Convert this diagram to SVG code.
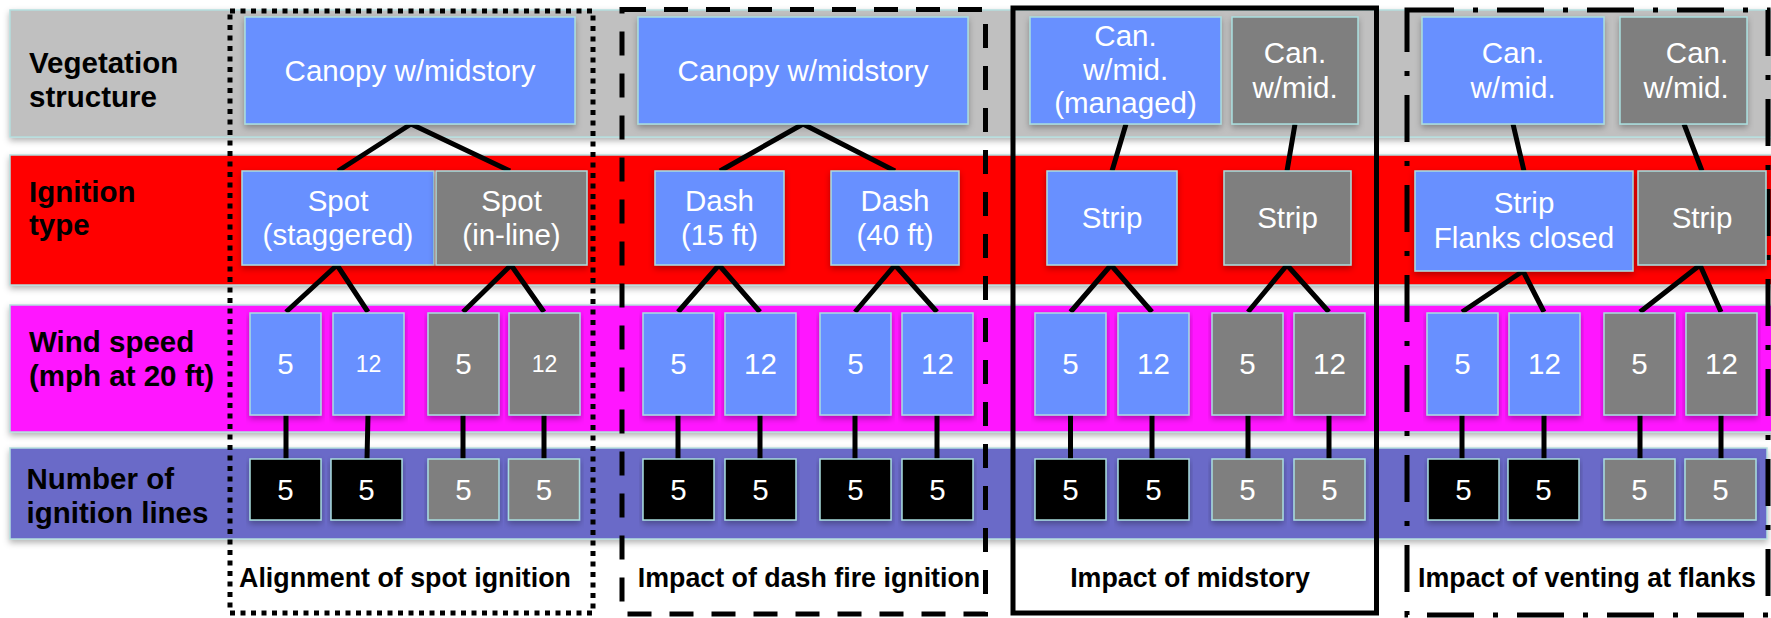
<svg xmlns="http://www.w3.org/2000/svg" width="1771" height="618" viewBox="0 0 1771 618">
<defs>
<filter id="sh" x="-5%" y="-10%" width="110%" height="130%">
<feDropShadow dx="0" dy="3" stdDeviation="3" flood-color="#000" flood-opacity="0.3"/>
</filter>
<style>
.band{stroke:#b4dede;stroke-width:1.5;filter:url(#sh)}
.n rect{stroke:#a9dede;stroke-width:1.5;filter:url(#sh)}
.b rect{fill:#6890ff}
.g rect{fill:#7f7f7f}
.k rect{fill:#000}
.n text{fill:#fff;font-family:"Liberation Sans",Arial,sans-serif;font-size:29.5px;text-anchor:middle}
.hdr{font-family:"Liberation Sans",Arial,sans-serif;font-size:29.5px;font-weight:bold;fill:#000}
.lbl{font-family:"Liberation Sans",Arial,sans-serif;font-size:26.8px;font-weight:bold;fill:#000;text-anchor:middle}
.frame{fill:none;stroke:#000;stroke-width:5}
#connectors path{fill:none;stroke:#000;stroke-width:5}
</style>
</defs>
<rect width="1771" height="618" fill="#fff"/>
<g id="bands">
<rect class="band" x="10" y="10" width="1770" height="127" fill="#c0c0c0"/>
<rect class="band" x="10" y="155" width="1770" height="130" fill="#ff0000"/>
<rect class="band" x="10" y="305" width="1770" height="127" fill="#ff19ff"/>
<rect class="band" x="10" y="448" width="1757" height="91" fill="#6b6bc8"/>
</g>
<g id="headers">
<text class="hdr" x="29" y="73">Vegetation</text>
<text class="hdr" x="29" y="107">structure</text>
<text class="hdr" x="29" y="202">Ignition</text>
<text class="hdr" x="29" y="235">type</text>
<text class="hdr" x="29" y="352">Wind speed</text>
<text class="hdr" x="29" y="386">(mph at 20 ft)</text>
<text class="hdr" x="26.5" y="489">Number of</text>
<text class="hdr" x="26.5" y="523">ignition lines</text>
</g>
<g id="frames">
<rect class="frame" x="230" y="11" width="363" height="602" stroke-dasharray="5 5.5"/>
<rect class="frame" x="622" y="9.5" width="363.5" height="604.5" stroke-dasharray="24 18"/>
<rect class="frame" x="1013" y="8" width="363.5" height="605"/>
<rect class="frame" x="1407" y="10" width="361" height="605" stroke-dasharray="47 19 5 19"/>
</g>
<g id="labels">
<text class="lbl" x="405" y="587">Alignment of spot ignition</text>
<text class="lbl" x="809" y="587">Impact of dash fire ignition</text>
<text class="lbl" x="1190" y="587">Impact of midstory</text>
<text class="lbl" x="1587" y="587">Impact of venting at flanks</text>
</g>
<g id="connectors">
<path d="M411,124 L338,171 M411,124 L510,171 M337,265 L286,312 M337,265 L368,312 M511,265 L463,312 M511,265 L544,312 M286,415 V459 M368,415 L367,459 M463,415 V459 M544,415 V459"/>
<path d="M803,124 L720,171 M803,124 L895,171 M719,265 L678,312 M719,265 L760,312 M895,265 L855,312 M895,265 L937,312 M678,415 V459 M760,415 V459 M855,415 V459 M937,415 V459"/>
<path d="M1126,124 L1112,171 M1295,124 L1287,171 M1111,265 L1070.5,312 M1111,265 L1152,312 M1287,265 L1248,312 M1287,265 L1329,312 M1070.5,415 V459 M1152,415 V459 M1248,415 V459 M1329,415 V459"/>
<path d="M1513,124 L1524,171 M1684,124 L1702,171 M1523,271 L1462,312 M1523,271 L1544,312 M1700,265 L1640,312 M1700,265 L1721,312 M1462,415 V459 M1544,415 V459 M1640,415 V459 M1721,415 V459"/>
</g>
<g id="veg1" class="n b"><rect x="245" y="17" width="330" height="107"/><text x="410" y="81">Canopy w/midstory</text></g>
<g id="veg2" class="n b"><rect x="638" y="17" width="330" height="107"/><text x="803" y="81">Canopy w/midstory</text></g>
<g id="veg3" class="n b"><rect x="1030" y="17" width="191" height="107"/><text x="1125.5" y="46">Can.</text><text x="1125.5" y="80">w/mid.</text><text x="1125.5" y="113">(managed)</text></g>
<g id="veg4" class="n g"><rect x="1232" y="17" width="126" height="107"/><text x="1295" y="63">Can.</text><text x="1295" y="98">w/mid.</text></g>
<g id="veg5" class="n b"><rect x="1422" y="17" width="182" height="107"/><text x="1513" y="63">Can.</text><text x="1513" y="98">w/mid.</text></g>
<g id="veg6" class="n g"><rect x="1620" y="17" width="127" height="107"/><text x="1697" y="63">Can.</text><text x="1686" y="98">w/mid.</text></g>
<g id="ign1" class="n b"><rect x="242" y="171" width="192" height="94"/><text x="338" y="211">Spot</text><text x="338" y="245">(staggered)</text></g>
<g id="ign2" class="n g"><rect x="436" y="171" width="151" height="94"/><text x="511.5" y="211">Spot</text><text x="511.5" y="245">(in-line)</text></g>
<g id="ign3" class="n b"><rect x="655" y="171" width="129" height="94"/><text x="719.5" y="211">Dash</text><text x="719.5" y="245">(15 ft)</text></g>
<g id="ign4" class="n b"><rect x="831" y="171" width="128" height="94"/><text x="895" y="211">Dash</text><text x="895" y="245">(40 ft)</text></g>
<g id="ign5" class="n b"><rect x="1047" y="171" width="130" height="94"/><text x="1112" y="228">Strip</text></g>
<g id="ign6" class="n g"><rect x="1224" y="171" width="127" height="94"/><text x="1287.5" y="228">Strip</text></g>
<g id="ign7" class="n b"><rect x="1415" y="171" width="218" height="100"/><text x="1524" y="213">Strip</text><text x="1524" y="248">Flanks closed</text></g>
<g id="ign8" class="n g"><rect x="1638" y="171" width="128" height="94"/><text x="1702" y="228">Strip</text></g>
<g id="w1" class="n b"><rect x="250" y="313" width="71" height="102"/><text x="285.5" y="374">5</text></g>
<g id="w2" class="n b"><rect x="333" y="313" width="71" height="102"/><text x="368.5" y="372" style="font-size:23px">12</text></g>
<g id="w3" class="n g"><rect x="428" y="313" width="71" height="102"/><text x="463.5" y="374">5</text></g>
<g id="w4" class="n g"><rect x="509" y="313" width="71" height="102"/><text x="544.5" y="372" style="font-size:23px">12</text></g>
<g id="w5" class="n b"><rect x="643" y="313" width="71" height="102"/><text x="678.5" y="374">5</text></g>
<g id="w6" class="n b"><rect x="725" y="313" width="71" height="102"/><text x="760.5" y="374">12</text></g>
<g id="w7" class="n b"><rect x="820" y="313" width="71" height="102"/><text x="855.5" y="374">5</text></g>
<g id="w8" class="n b"><rect x="902" y="313" width="71" height="102"/><text x="937.5" y="374">12</text></g>
<g id="w9" class="n b"><rect x="1035" y="313" width="71" height="102"/><text x="1070.5" y="374">5</text></g>
<g id="w10" class="n b"><rect x="1118" y="313" width="71" height="102"/><text x="1153.5" y="374">12</text></g>
<g id="w11" class="n g"><rect x="1212" y="313" width="71" height="102"/><text x="1247.5" y="374">5</text></g>
<g id="w12" class="n g"><rect x="1294" y="313" width="71" height="102"/><text x="1329.5" y="374">12</text></g>
<g id="w13" class="n b"><rect x="1427" y="313" width="71" height="102"/><text x="1462.5" y="374">5</text></g>
<g id="w14" class="n b"><rect x="1509" y="313" width="71" height="102"/><text x="1544.5" y="374">12</text></g>
<g id="w15" class="n g"><rect x="1604" y="313" width="71" height="102"/><text x="1639.5" y="374">5</text></g>
<g id="w16" class="n g"><rect x="1686" y="313" width="71" height="102"/><text x="1721.5" y="374">12</text></g>
<g id="l1" class="n k"><rect x="250" y="459" width="71" height="61"/><text x="285.5" y="500">5</text></g>
<g id="l2" class="n k"><rect x="331" y="459" width="71" height="61"/><text x="366.5" y="500">5</text></g>
<g id="l3" class="n g"><rect x="428" y="459" width="71" height="61"/><text x="463.5" y="500">5</text></g>
<g id="l4" class="n g"><rect x="508.5" y="459" width="71" height="61"/><text x="544" y="500">5</text></g>
<g id="l5" class="n k"><rect x="643" y="459" width="71" height="61"/><text x="678.5" y="500">5</text></g>
<g id="l6" class="n k"><rect x="725" y="459" width="71" height="61"/><text x="760.5" y="500">5</text></g>
<g id="l7" class="n k"><rect x="820" y="459" width="71" height="61"/><text x="855.5" y="500">5</text></g>
<g id="l8" class="n k"><rect x="902" y="459" width="71" height="61"/><text x="937.5" y="500">5</text></g>
<g id="l9" class="n k"><rect x="1035" y="459" width="71" height="61"/><text x="1070.5" y="500">5</text></g>
<g id="l10" class="n k"><rect x="1118" y="459" width="71" height="61"/><text x="1153.5" y="500">5</text></g>
<g id="l11" class="n g"><rect x="1212" y="459" width="71" height="61"/><text x="1247.5" y="500">5</text></g>
<g id="l12" class="n g"><rect x="1294" y="459" width="71" height="61"/><text x="1329.5" y="500">5</text></g>
<g id="l13" class="n k"><rect x="1428" y="459" width="71" height="61"/><text x="1463.5" y="500">5</text></g>
<g id="l14" class="n k"><rect x="1508" y="459" width="71" height="61"/><text x="1543.5" y="500">5</text></g>
<g id="l15" class="n g"><rect x="1604" y="459" width="71" height="61"/><text x="1639.5" y="500">5</text></g>
<g id="l16" class="n g"><rect x="1685" y="459" width="71" height="61"/><text x="1720.5" y="500">5</text></g>
</svg>
